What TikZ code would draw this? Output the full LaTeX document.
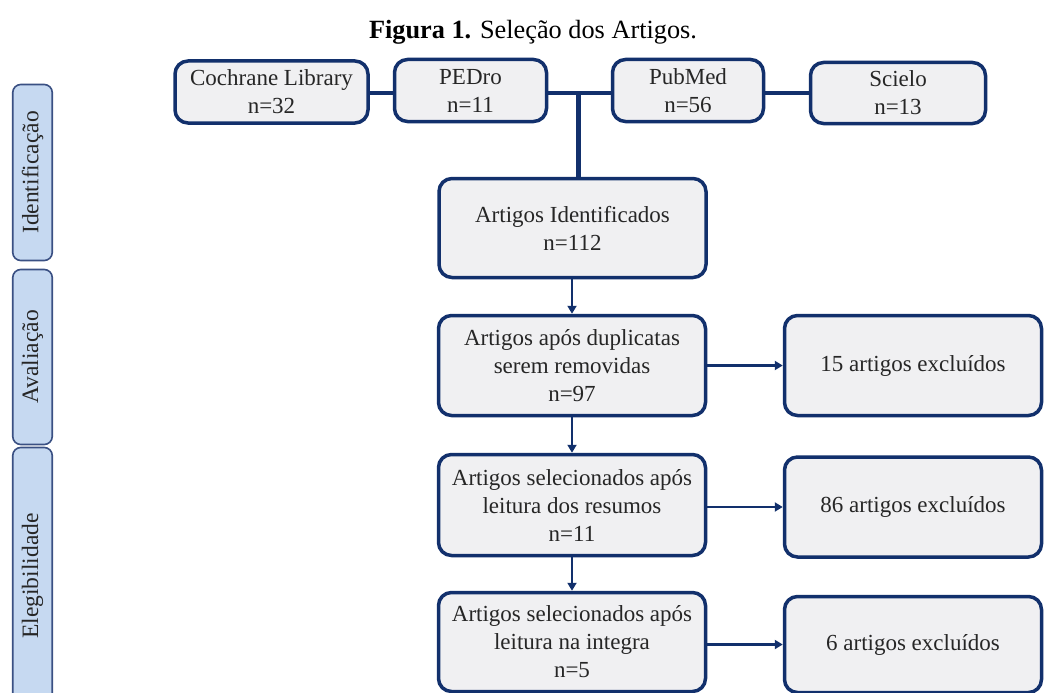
\documentclass[tikz,border=0pt]{standalone}
\usepackage{fontspec}
\setmainfont{Liberation Serif}
\usetikzlibrary{arrows.meta}
\definecolor{navy}{HTML}{12306C}
\definecolor{boxfill}{HTML}{F0F0F2}
\definecolor{panelfill}{HTML}{C6D9F1}
\definecolor{panelline}{HTML}{3A5083}
\tikzset{
  mainbox/.style={draw=navy, line width=3.5pt, fill=boxfill, rounded corners=13pt,
    align=center, inner sep=0pt, font=\fontsize{23}{28}\selectfont, text=black!85},
  panel/.style={draw=panelline, line width=1.6pt, fill=panelfill, rounded corners=8pt,
    rotate=90, inner sep=0pt, minimum height=39.5pt, font=\fontsize{23.5}{27}\selectfont, text=black!85},
  thickline/.style={draw=navy, line width=4.5pt},
  flowarrow/.style={draw=navy, line width=2.5pt, -{Triangle[length=8pt,width=9pt]}}
}
\begin{document}
\begin{tikzpicture}[x=1pt,y=-1pt]
\useasboundingbox[fill=white] (0,0) rectangle (1044,693);
\node[anchor=base, font=\fontsize{26.3}{30}\selectfont] (title) at (533,38.5) {\textbf{Figura 1.} Seleção dos Artigos.};
% left panels
\node[panel, minimum width=176pt] (pid) at (32.5,172.5) {Identificação};
\node[panel, minimum width=175pt] (pav) at (32.5,357) {Avaliação};
\node[panel, minimum width=257pt] (pel) at (32.5,576) {Elegibilidade};
% top boxes
\node[mainbox, minimum width=193pt, minimum height=62pt] (coch) at (271.5,92) {Cochrane Library\\n=32};
\node[mainbox, minimum width=152pt, minimum height=62pt] (pedro) at (470.5,90.5) {PEDro\\n=11};
\node[mainbox, minimum width=151pt, minimum height=62pt] (pubmed) at (688,90.5) {PubMed\\n=56};
\node[mainbox, minimum width=175pt, minimum height=61pt] (scielo) at (898,93) {Scielo\\n=13};
% flow boxes
\node[mainbox, minimum width=267pt, minimum height=99pt] (ident) at (572.5,228) {Artigos Identificados\\n=112};
\node[mainbox, minimum width=267pt, minimum height=100pt] (dup) at (572,365.5) {Artigos após duplicatas\\serem removidas\\n=97};
\node[mainbox, minimum width=257pt, minimum height=100pt] (exc1) at (913,365.5) {15 artigos excluídos};
\node[mainbox, minimum width=267pt, minimum height=101pt] (res) at (572,505) {Artigos selecionados após\\leitura dos resumos\\n=11};
\node[mainbox, minimum width=257pt, minimum height=100pt] (exc2) at (913,507) {86 artigos excluídos};
\node[mainbox, minimum width=267pt, minimum height=99pt] (int) at (572,642) {Artigos selecionados após\\leitura na integra\\n=5};
\node[mainbox, minimum width=257pt, minimum height=96pt] (exc3) at (913,644.5) {6 artigos excluídos};
% top connectors
\coordinate (j) at (578.5,93);
\draw[thickline] (coch.east |- j) -- (pedro.west |- j);
\draw[thickline] (pedro.east |- j) -- (pubmed.west |- j);
\draw[thickline] (pubmed.east |- j) -- (scielo.west |- j);
\draw[thickline] (j) -- (j |- ident.north);
% arrows
\draw[flowarrow] (dup.north |- ident.south) -- (dup.north);
\draw[flowarrow] (dup.south) -- (res.north);
\draw[flowarrow] (res.south) -- (int.north);
\draw[flowarrow] (dup.east) -- (exc1.west |- dup.east);
\draw[flowarrow] (res.east |- exc2.west) -- (exc2.west);
\draw[flowarrow] (int.east |- exc3.west) -- (exc3.west);
\end{tikzpicture}
\end{document}
